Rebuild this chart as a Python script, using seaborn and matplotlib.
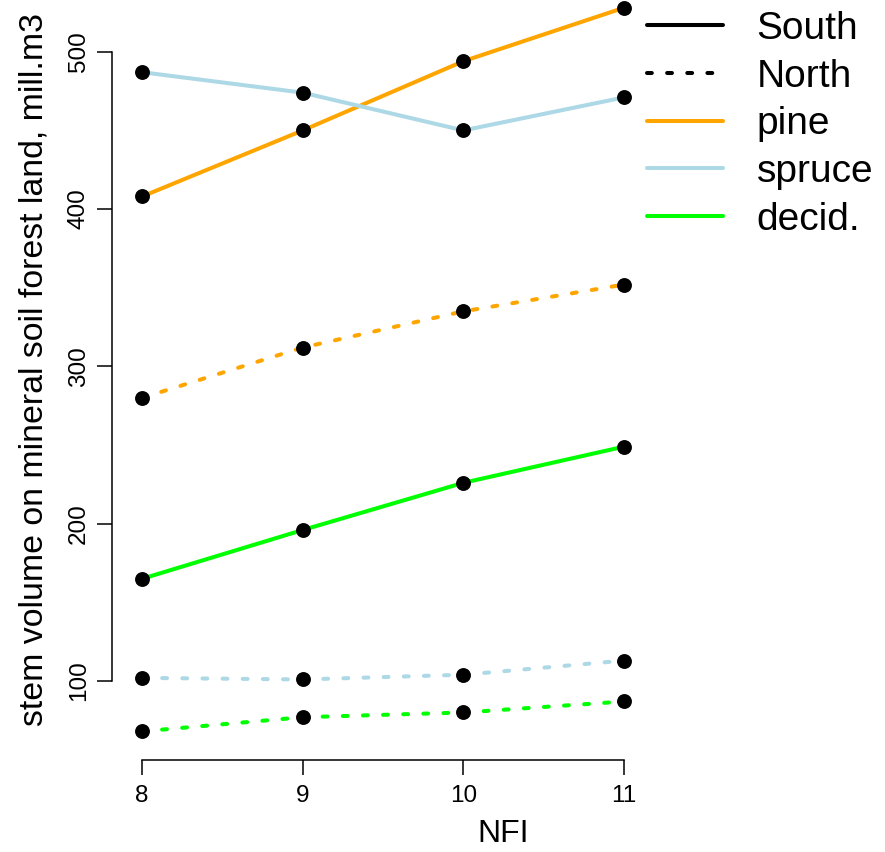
import matplotlib
matplotlib.use("Agg")
import matplotlib.pyplot as plt
import seaborn as sns
import pandas as pd
from matplotlib.lines import Line2D

# ---- data ----
nfi = [8, 9, 10, 11]
south_pine = [408, 450, 494, 528]
south_spruce = [487, 474, 450, 471]
south_decid = [165, 196, 226, 249]
north_pine = [280, 312, 335, 352]
north_spruce = [102, 101, 104, 113]
north_decid = [68, 77, 80, 87]
species = ["pine", "spruce", "decid."]
regions = ["South", "North"]
y_ticks = [100, 200, 300, 400, 500]
x_label = "NFI"
y_label = "stem volume on mineral soil forest land, mill.m3"

series = {
    ("South", "pine"): south_pine,
    ("South", "spruce"): south_spruce,
    ("South", "decid."): south_decid,
    ("North", "pine"): north_pine,
    ("North", "spruce"): north_spruce,
    ("North", "decid."): north_decid,
}
rows = []
for (reg, sp), vals in series.items():
    for x, v in zip(nfi, vals):
        rows.append({"NFI": x, "volume": v, "region": reg, "species": sp})
df = pd.DataFrame(rows)

palette = {"pine": "#FFA500", "spruce": "#ADD8E6", "decid.": "#00FF00"}
dash_north = (1.2, 3.8)

sns.set_theme(style="ticks")
plt.rcParams["font.family"] = ["Liberation Sans", "DejaVu Sans"]
plt.rcParams["text.color"] = "black"

W, H = 885, 852
fig = plt.figure(figsize=(W / 100, H / 100), dpi=100)
# plot region in pixels: left 112, right 894, top -21.7, bottom 760
left_px, right_px, top_px, bottom_px = 112, 894, -21.7, 760
ax = fig.add_axes([left_px / W, (H - bottom_px) / H,
                   (right_px - left_px) / W, (bottom_px - top_px) / H])

sns.lineplot(data=df, x="NFI", y="volume", hue="species", style="region",
             hue_order=species, style_order=regions, palette=palette,
             dashes={"South": "", "North": dash_north}, linewidth=2.9,
             errorbar=None, legend=False, ax=ax)
for ln in ax.lines:
    ln.set_dash_capstyle("round")
    ln.set_solid_capstyle("round")

sns.scatterplot(data=df, x="NFI", y="volume", color="black", s=115,
                linewidth=0, zorder=3, legend=False, ax=ax)

ax.set_xlim(7.813, 12.68)
ax.set_ylim(49.8, 546.7)
ax.set_xticks(nfi)
ax.set_xticklabels([str(v) for v in nfi])
ax.set_yticks(y_ticks)
ax.set_yticklabels([str(v) for v in y_ticks])
for s in ["top", "right"]:
    ax.spines[s].set_visible(False)
ax.spines["left"].set_bounds(100, 500)
ax.spines["bottom"].set_bounds(8, 11)
for s in ["left", "bottom"]:
    ax.spines[s].set_linewidth(1.1)
    ax.spines[s].set_color("black")
ax.tick_params(axis="both", length=11, width=1.1, color="black",
               labelsize=17.5, labelcolor="black")
ax.tick_params(axis="y", pad=5)
ax.tick_params(axis="x", pad=7)
plt.setp(ax.get_yticklabels(), rotation=90, va="center")
ax.grid(False)
ax.set_facecolor("white")

ax.set_xlabel(x_label, fontsize=23, color="black")
ax.set_ylabel(y_label, fontsize=24.4, color="black")
ax.xaxis.set_label_coords(0.5, (bottom_px - 819) / (bottom_px - top_px))
ax.yaxis.set_label_coords((50 - left_px) / (right_px - left_px), 0.5)

handles = [
    Line2D([], [], color="black", lw=2.9),
    Line2D([], [], color="black", lw=2.9, dashes=dash_north, dash_capstyle="round"),
    Line2D([], [], color=palette["pine"], lw=2.9),
    Line2D([], [], color=palette["spruce"], lw=2.9),
    Line2D([], [], color=palette["decid."], lw=2.9),
]
labels = regions + species
ax.legend(handles, labels, loc="upper left", bbox_to_anchor=(647 / W, 1 - 11 / H),
          bbox_transform=fig.transFigure, frameon=False, fontsize=28,
          handlelength=1.95, handletextpad=0.87, labelspacing=0.3,
          borderpad=0, borderaxespad=0, labelcolor="black")

fig.patch.set_facecolor("white")
fig.savefig("out.png", dpi=100)
